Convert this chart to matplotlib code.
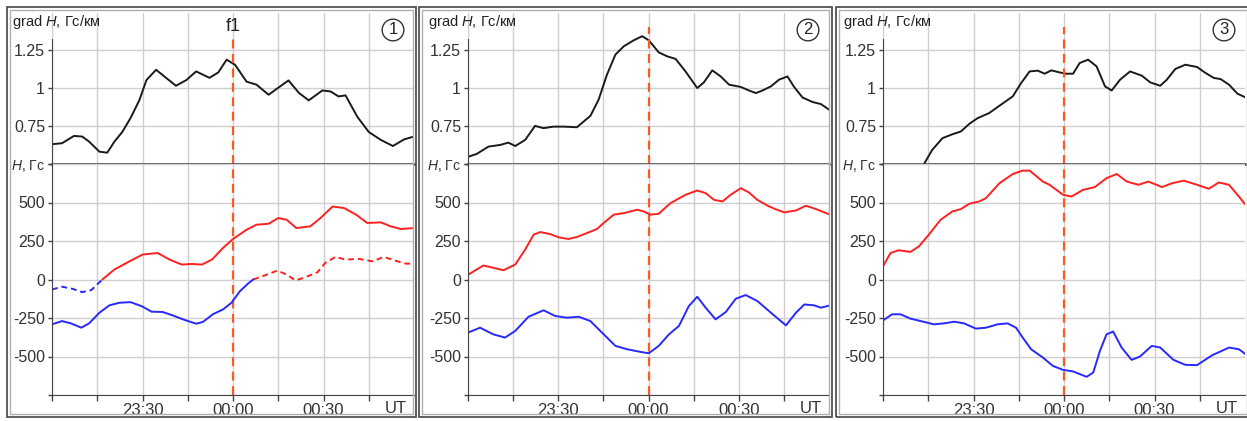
import matplotlib
matplotlib.use('Agg')
import matplotlib.pyplot as plt
from matplotlib.patches import Rectangle

plt.rcParams['font.family'] = ['Liberation Sans', 'DejaVu Sans']
plt.rcParams['mathtext.fontset'] = 'custom'
plt.rcParams['mathtext.it'] = 'Liberation Sans:italic'
plt.rcParams['mathtext.rm'] = 'Liberation Sans'

# time in minutes from 00:00 UT
# ---- panel 1 ----
p1_grad_t = [-60, -56.7, -52.7, -50, -47.7, -44.3, -41.7, -39.3, -36.7, -34, -31, -28.7, -25.5, -22.2,
             -18.9, -15.5, -12.2, -7.8, -4.9, -2.1, 0.7, 4.5, 7.8, 11.8, 15, 18.4, 21.8, 25.1, 29.6,
             32.3, 35, 37.3, 41.2, 45, 49, 53, 56.8, 60]
p1_grad_v = [0.63, 0.636, 0.684, 0.68, 0.647, 0.581, 0.574, 0.647, 0.71, 0.80, 0.92, 1.05, 1.118, 1.065,
             1.013, 1.05, 1.107, 1.065, 1.10, 1.184, 1.15, 1.04, 1.02, 0.954, 1.0, 1.048, 0.967, 0.917,
             0.982, 0.976, 0.943, 0.95, 0.81, 0.71, 0.658, 0.618, 0.662, 0.68]
p1_red_t = [-43.3, -39.3, -34.3, -30, -25, -21, -17, -13.7, -10.3, -7, -3.3, 0, 4.5, 7.8, 11.8, 15,
            17.8, 21, 25.6, 29, 33, 36.8, 40.8, 44.5, 49, 52.3, 55.6, 60]
p1_red_v = [0, 65, 118, 162, 172, 129, 97, 101, 97, 129, 205, 263, 323, 356, 362, 399,
            388, 334, 345, 399, 474, 464, 421, 367, 371, 345, 328, 334]
p1_blue_dash_t = [-60, -56.7, -53.3, -50, -47, -43.3]
p1_blue_dash_v = [-65, -47, -60, -82, -69, 0]
p1_red_dash_t = [6.7, 11.3, 14.7, 17.8, 20.7, 24, 28, 30.6, 34, 37.3, 41.7, 46.3, 50, 53.3, 57.3, 60]
p1_red_dash_v = [0, 32, 58, 32, -6, 15, 47, 108, 147, 129, 134, 118, 147, 125, 103, 103]
p1_blue_t = [-60, -56.7, -53.7, -50.3, -47.7, -44.3, -41, -37.7, -34, -30.3, -27, -23.3, -20, -16,
             -12.2, -10, -6.7, -3.3, -0.5, 2.3, 5, 6.7]
p1_blue_v = [-291, -270, -285, -313, -285, -216, -168, -151, -147, -173, -209, -211, -233, -263,
             -287, -276, -226, -194, -151, -76, -26, 0]

# ---- panel 2 ----
p2_grad_t = [-59.9, -57.1, -53.2, -49.3, -46.6, -44.3, -41, -37.7, -34.9, -31.6, -28.2, -23.8, -19.3,
             -16.6, -13.8, -11, -8.2, -4.9, -2.1, 0.1, 3.4, 6.2, 9, 12.3, 16.2, 18.4, 21.2, 24, 26.8,
             30.7, 33.4, 35.7, 37.9, 40.7, 43.4, 46.2, 48.4, 51.2, 54.6, 57.3, 60.4]
p2_grad_v = [0.548, 0.566, 0.614, 0.625, 0.64, 0.618, 0.658, 0.75, 0.735, 0.745, 0.745, 0.741, 0.816,
             0.921, 1.086, 1.217, 1.272, 1.311, 1.338, 1.311, 1.232, 1.206, 1.189, 1.107, 0.998, 1.035,
             1.114, 1.074, 1.02, 1.005, 0.982, 0.965, 0.982, 1.009, 1.053, 1.074, 1.005, 0.936, 0.906,
             0.893, 0.851]
p2_red_t = [-59.9, -54.9, -51.6, -48.2, -44.3, -41, -38.2, -36, -32.7, -29.9, -26.6, -23.8, -20.4,
            -17.1, -14.9, -11.6, -8.2, -3.8, -1.6, 0.7, 3.4, 7.3, 12.3, 16.2, 19, 21.8, 24.6, 27.3,
            30.7, 33.4, 36.2, 39.6, 42.4, 45.1, 49, 52.3, 55.7, 60.4]
p2_red_v = [32, 91, 76, 60, 97, 194, 291, 308, 295, 274, 263, 276, 302,
            328, 367, 421, 431, 453, 442, 421, 427, 496, 550, 578, 561, 517, 507, 550,
            593, 565, 517, 479, 455, 436, 448, 479, 457, 421]
p2_blue_t = [-60, -56, -51.6, -47.7, -44.3, -39.9, -34.9, -31, -27.1, -23.2, -19.3, -14.9, -11, -7.1,
             -2.7, 0.1, 3.4, 6.8, 10.1, 13.4, 16.2, 19, 22.3, 25.7, 29, 32.3, 36.2, 40.7, 45.7, 49,
             51.8, 55.1, 57.3, 60.4]
p2_blue_v = [-345, -313, -356, -377, -334, -242, -200, -237, -248, -242, -270, -356, -431, -453,
             -470, -479, -431, -356, -302, -173, -112, -183, -259, -211, -125, -101, -140, -216, -298,
             -216, -162, -168, -183, -168]

# ---- panel 3 ----
p3_grad_t = [-46.4, -43.7, -40.3, -37, -34.2, -31.4, -28.7, -24.8, -21.4, -17, -14.2, -11.4, -8.7,
             -6.4, -4.2, -1.4, 0.8, 3, 5.2, 8, 10.8, 13.6, 15.8, 18.6, 21.9, 25.8, 28.6, 31.9, 34.1,
             36.9, 40.2, 44.1, 46.9, 49.7, 51.9, 54.7, 57.5, 59.9]
p3_grad_v = [0.5, 0.592, 0.669, 0.695, 0.713, 0.763, 0.80, 0.834, 0.882, 0.943, 1.031, 1.107, 1.112,
             1.092, 1.114, 1.10, 1.092, 1.092, 1.162, 1.184, 1.14, 1.009, 0.982, 1.053, 1.107, 1.079,
             1.035, 1.013, 1.053, 1.123, 1.151, 1.136, 1.097, 1.064, 1.057, 1.02, 0.961, 0.939]
p3_red_t = [-60.3, -57.5, -54.8, -50.9, -48.1, -44.8, -40.9, -37, -34.2, -31.4, -28.1, -25.9, -21.4,
            -17, -13.7, -11.4, -7, -4.8, -0.3, 2.5, 6.3, 10.2, 14.1, 17.5, 20.8, 24.7, 28, 32.5,
            35.8, 39.7, 44.1, 48, 51.3, 54.7, 57.5, 60.2]
p3_red_v = [76, 172, 190, 179, 215, 291, 388, 442, 457, 492, 507, 528, 625,
            685, 707, 707, 636, 615, 550, 539, 582, 600, 658, 685, 636, 615, 636, 600,
            625, 642, 615, 589, 630, 615, 550, 485]
p3_blue_t = [-60.3, -57, -54.2, -50.9, -47.5, -43.1, -39.8, -36.4, -33.1, -29.2, -25.9, -22, -18.7,
             -15.9, -13.7, -10.9, -7, -3.7, -0.3, 3, 7.5, 9.7, 11.9, 14.1, 16.3, 19.1, 22.4, 25.2,
             29.1, 31.9, 36.3, 40.2, 44.1, 49.1, 54.7, 58, 60.2]
p3_blue_v = [-270, -226, -226, -254, -270, -291, -285, -274, -285, -319, -313, -291, -285,
             -313, -377, -453, -507, -561, -587, -597, -632, -604, -464, -356, -338, -442, -522, -500,
             -431, -442, -522, -554, -556, -492, -442, -453, -485]

x_ticks = [-60, -45, -30, -15, 0, 15, 30, 45]
x_labels = ['', '', '23:30', '', '00:00', '', '00:30', '']
grad_ticks = [0.5, 0.75, 1, 1.25]
grad_labels = ['', '0.75', '1', '1.25']
h_ticks = [-750, -500, -250, 0, 250, 500, 750]
h_labels = ['', '-500', '-250', '0', '250', '500', '$H$, Гс']

W, H = 1247, 421
fig = plt.figure(figsize=(W / 100, H / 100), dpi=100)

RED = '#ff2020'
BLUE = '#2828ff'
ORANGE = '#ff5a1e'
GRID = '#cfcfcf'
TXT = '#333333'

# panel frames (pixels)
frames = [(7, 416), (419, 832), (836, 1250)]
for x0, x1 in frames:
    fig.patches.append(Rectangle((x0 / W, 1 - 417 / H), (x1 - x0) / W, 410 / H,
                                 transform=fig.transFigure, fill=False, ec='#444444', lw=1.2, zorder=5))
    fig.patches.append(Rectangle(((x0 + 3) / W, 1 - 414 / H), (x1 - x0 - 6) / W, 404 / H,
                                 transform=fig.transFigure, fill=False, ec='#b0b0b0', lw=1.0, zorder=5))

panel_x = [(52, 414), (468, 829), (883, 1245)]
grads = [(p1_grad_t, p1_grad_v), (p2_grad_t, p2_grad_v), (p3_grad_t, p3_grad_v)]
dash_top = [1.335, 1.40, 1.40]

for i, (l, r) in enumerate(panel_x):
    at = fig.add_axes([l / W, 1 - 164 / H, (r - l) / W, 151 / H])
    ab = fig.add_axes([l / W, 1 - 395 / H, (r - l) / W, 231 / H])

    for ax in (at, ab):
        ax.set_xlim(-60, 60)
        ax.set_xticks(x_ticks)
        ax.grid(True, color=GRID, lw=1.0)
        ax.set_axisbelow(True)
        ax.spines['top'].set_visible(False)
        ax.spines['right'].set_visible(False)
        ax.spines['left'].set_color('#444444')
        ax.tick_params(axis='y', length=3, width=1, color='#444444', labelsize=11.5,
                       labelcolor=TXT, pad=2)

    at.set_ylim(0.5, 1.49)
    at.set_yticks(grad_ticks)
    at.set_yticklabels(grad_labels)
    at.spines['left'].set_bounds(0.5, 1.32)
    at.spines['bottom'].set_color('#444444')
    at.spines['bottom'].set_linewidth(1.8)
    at.tick_params(axis='x', length=0, labelbottom=False)

    ab.set_ylim(-750, 750)
    ab.set_yticks(h_ticks)
    ab.set_yticklabels(h_labels)
    ab.spines['bottom'].set_color('#444444')
    ab.set_xticklabels(x_labels)
    ab.tick_params(axis='x', length=4, width=1, color='#444444', labelsize=12,
                   labelcolor=TXT, pad=2)
    ab.text(54, -0.026, 'UT', transform=ab.get_xaxis_transform(), ha='center', va='top',
            fontsize=12, color=TXT)
    for lbl in ab.get_yticklabels():
        if 'Гс' in lbl.get_text():
            lbl.set_fontsize(10)

    gt, gv = grads[i]
    at.plot(gt, gv, color='#1a1a1a', lw=1.4)

    at.axvline(0, ymax=(dash_top[i] - 0.5) / 0.99, color=ORANGE, lw=1.6, ls=(0, (4, 2.5)))
    ab.axvline(0, color=ORANGE, lw=1.6, ls=(0, (4, 2.5)))

    at.text((r - l - 21) / (r - l), (164 - 30) / 151, str(i + 1), transform=at.transAxes,
            ha='center', va='center', fontsize=12, color='#222222',
            bbox=dict(boxstyle='circle,pad=0.2', fc='white', ec='#333333', lw=1.0))
    fig.text((l - 40) / W, 1 - 22 / H, 'grad $H$, Гс/км', ha='left', va='center',
             fontsize=10.5, color='#222222')

    if i == 0:
        ab.plot(p1_red_t, p1_red_v, color=RED, lw=1.4)
        ab.plot(p1_red_dash_t, p1_red_dash_v, color=RED, lw=1.4, ls=(0, (3, 2)))
        ab.plot(p1_blue_t, p1_blue_v, color=BLUE, lw=1.4)
        ab.plot(p1_blue_dash_t, p1_blue_dash_v, color=BLUE, lw=1.4, ls=(0, (3, 2)))
        at.text(0, 1.40, 'f1', ha='center', va='center', fontsize=13, color='#222222')
    elif i == 1:
        ab.plot(p2_red_t, p2_red_v, color=RED, lw=1.4)
        ab.plot(p2_blue_t, p2_blue_v, color=BLUE, lw=1.4)
    else:
        ab.plot(p3_red_t, p3_red_v, color=RED, lw=1.4)
        ab.plot(p3_blue_t, p3_blue_v, color=BLUE, lw=1.4)

fig.savefig('out.png', dpi=100)
